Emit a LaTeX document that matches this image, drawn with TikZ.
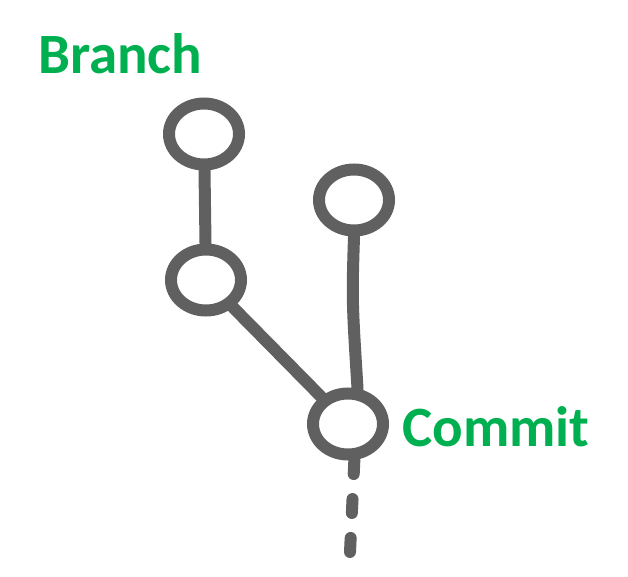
\documentclass[tikz,border=0pt]{standalone}
\usepackage{fontspec}
\setmainfont{Carlito}
\usetikzlibrary{shapes.geometric}
\definecolor{gitgray}{HTML}{606060}
\definecolor{gitgreen}{HTML}{00B050}
\begin{document}
\begin{tikzpicture}[x=1pt,y=-1pt,
  commitnode/.style={ellipse, draw=gitgray, line width=12pt, inner sep=0pt, minimum width=70pt, minimum height=61pt},
  link/.style={draw=gitgray, line width=12pt, line cap=round},
  lbl/.style={text=gitgreen, font=\bfseries\fontsize{57}{62}\selectfont, inner sep=0pt, anchor=base west}]
\useasboundingbox (0,0) rectangle (628,577);
\node[commitnode] (c1) at (204,134) {};
\node[commitnode] (c2) at (206,280) {};
\node[commitnode] (c3) at (354,200) {};
\node[commitnode] (c4) at (348,424) {};
\node[lbl] (branch) at (38,74) {Branch};
\node[lbl] (commit) at (402,446) {Commit};
\coordinate (tail) at (350,552);
\draw[link] (c1) -- (c2);
\draw[link] (c2) -- (c4);
\draw[link] (c3.south) .. controls (352,300) .. (c4.75);
\draw[link, dash pattern=on 14pt off 25pt] (c4.-80) -- (tail);
\end{tikzpicture}
\end{document}
